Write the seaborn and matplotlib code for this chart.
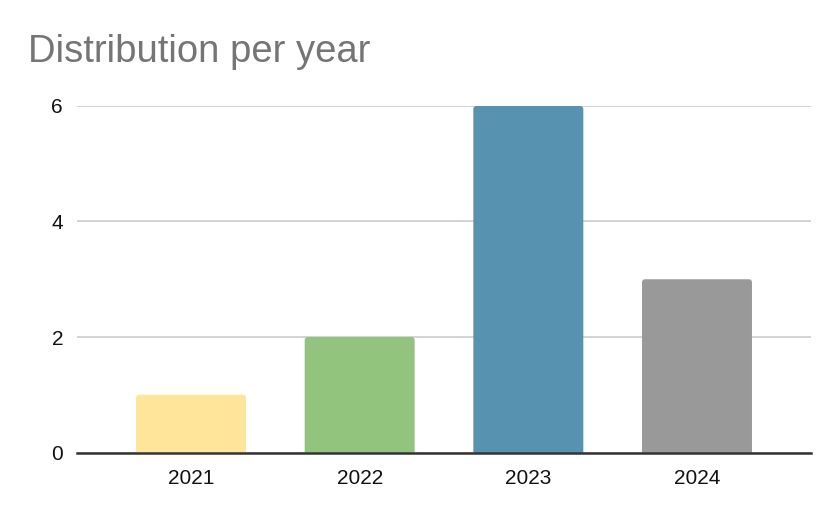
import matplotlib
matplotlib.use("Agg")
import pandas as pd
import seaborn as sns
from matplotlib import pyplot as plt
from matplotlib.patches import FancyBboxPatch

# data
years = ["2021", "2022", "2023", "2024"]
counts = [1, 2, 6, 3]
bar_colors = ["#FFE599", "#93C47D", "#5792B0", "#999999"]

df = pd.DataFrame({"year": years, "count": counts})

sns.set_style("white")
plt.rcParams["font.family"] = ["Liberation Sans", "DejaVu Sans"]

fig = plt.figure(figsize=(8.36, 5.18), dpi=100)
ax = fig.add_axes([0.0921, 0.1264, 0.878, 0.669])

sns.barplot(data=df, x="year", y="count", hue="year", palette=bar_colors,
            width=0.652, legend=False, ax=ax, saturation=1)

# rounded tops: swap the seaborn rectangles for rounded boxes (bottom hidden under axis)
ry = 3 / 57.75
rx = 3 / 168.7
for p in list(ax.patches):
    x, w, h = p.get_x(), p.get_width(), p.get_height()
    fc = p.get_facecolor()
    p.remove()
    box = FancyBboxPatch((x, -0.2), w, h + 0.2,
                         boxstyle=f"round,pad=0,rounding_size={rx}",
                         mutation_aspect=ry / rx, facecolor=fc,
                         edgecolor="none", zorder=2)
    ax.add_patch(box)

ax.set_xlim(-0.676, 3.676)
ax.set_ylim(0, 6)
ax.set_yticks([0, 2, 4, 6])
ax.set_xlabel("")
ax.set_ylabel("")

ax.grid(axis="y", color="#CCCCCC", linewidth=1.2, zorder=0)
ax.set_axisbelow(True)
for s in ["top", "right", "left"]:
    ax.spines[s].set_visible(False)
ax.spines["bottom"].set_color("#333333")
ax.spines["bottom"].set_linewidth(1.8)
ax.spines["bottom"].set_zorder(3)
ax.tick_params(axis="both", length=0, labelsize=15, colors="#111111")
ax.tick_params(axis="y", pad=10)
ax.tick_params(axis="x", pad=12)

fig.text(28 / 836, 1 - 62 / 518, "Distribution per year", fontsize=27.5,
         color="#757575", ha="left", va="baseline")

fig.savefig("out.png", dpi=100)
